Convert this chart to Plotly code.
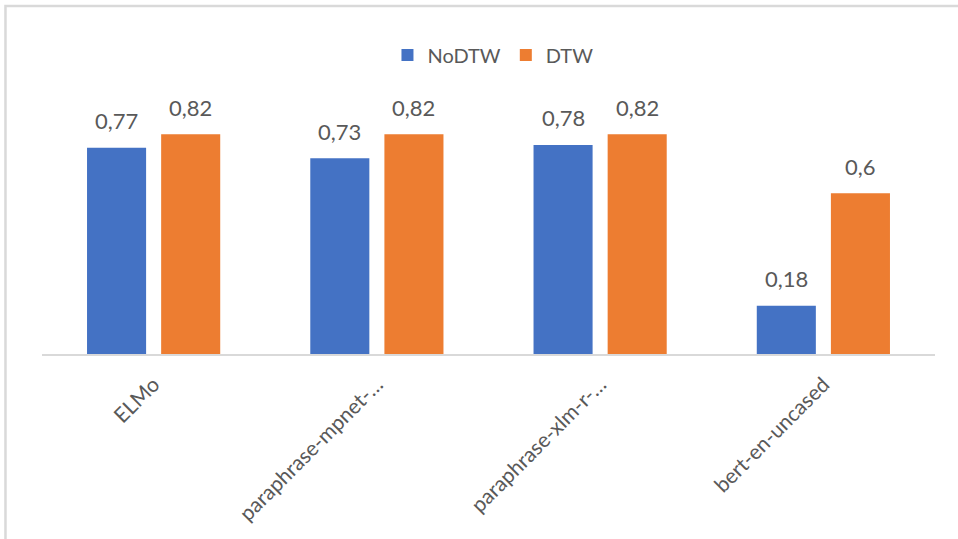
import plotly.graph_objects as go

# Model names as shown on the category axis
models = ["ELMo", "paraphrase-mpnet-…", "paraphrase-xlm-r-…", "bert-en-uncased"]

# Scores per model
nodtw = [0.77, 0.73, 0.78, 0.18]
dtw = [0.82, 0.82, 0.82, 0.6]

BLUE = "#4472C4"
ORANGE = "#ED7D31"
TEXT = "#595959"
FONT = "Lato"


def fmt(v):
    return f"{v:g}".replace(".", ",")


fig = go.Figure()
fig.add_trace(go.Bar(name="NoDTW", x=models, y=nodtw, marker=dict(color=BLUE, line=dict(width=0))))
fig.add_trace(go.Bar(name="DTW", x=models, y=dtw, marker=dict(color=ORANGE, line=dict(width=0))))

# Value labels above each bar
annotations = []
for series, shift in ((nodtw, -37), (dtw, 37)):
    for m, v in zip(models, series):
        annotations.append(dict(
            x=m, y=v, xref="x", yref="y", text=fmt(v), showarrow=False,
            xshift=shift, yshift=27, yanchor="middle", xanchor="center",
            font=dict(family=FONT, size=22, color=TEXT),
        ))

fig.update_layout(
    width=958, height=539,
    margin=dict(l=42, r=23, t=86, b=185),
    paper_bgcolor="white", plot_bgcolor="white",
    barmode="group", bargap=0.336, bargroupgap=0.203,
    font=dict(family=FONT, color=TEXT),
    showlegend=True,
    legend=dict(
        orientation="h", x=0.505, xanchor="center", y=1.116, yanchor="middle",
        font=dict(family=FONT, size=20, color=TEXT), traceorder="normal",
        itemwidth=30,
    ),
    xaxis=dict(
        showline=True, linecolor="#d9d9d9", linewidth=2, showgrid=False,
        ticks="", tickangle=-45, tickfont=dict(family=FONT, size=21, color=TEXT),
        ticklabelstandoff=8, fixedrange=True,
    ),
    yaxis=dict(
        range=[0, 1.0], showgrid=False, showticklabels=False, zeroline=False,
        showline=False, fixedrange=True,
    ),
    annotations=annotations,
    shapes=[dict(
        type="rect", xref="paper", yref="paper",
        x0=-0.0409, x1=1.04, y0=-0.73, y1=1.2985,
        line=dict(color="#d9d9d9", width=2.5), fillcolor="rgba(0,0,0,0)", layer="below",
    )],
)

fig.write_html("out.html")
